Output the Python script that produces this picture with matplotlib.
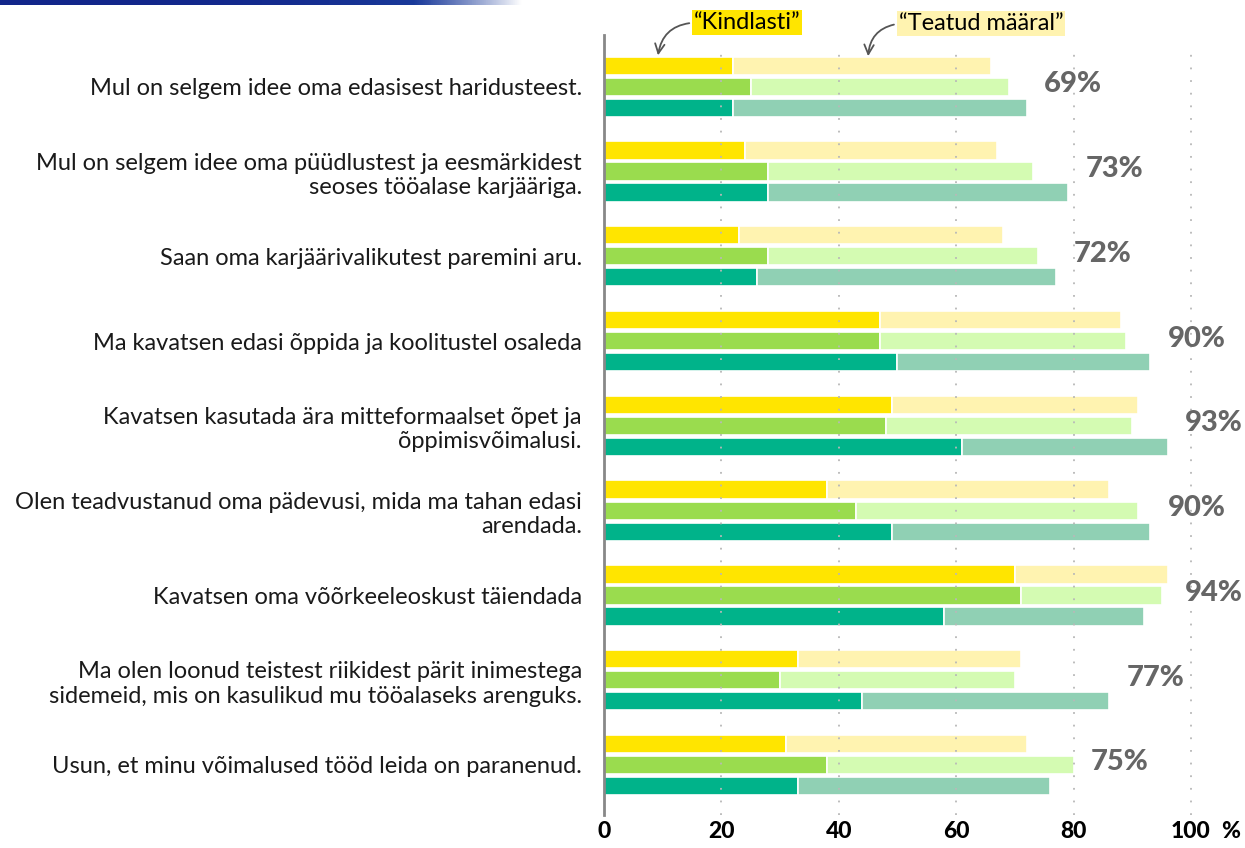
import matplotlib
matplotlib.use("Agg")
import matplotlib.pyplot as plt
import numpy as np
from matplotlib.colors import LinearSegmentedColormap

plt.rcParams['font.family'] = ['Lato', 'DejaVu Sans']

# andmed
kategooriad = [
    "Mul on selgem idee oma edasisest haridusteest.",
    "Mul on selgem idee oma püüdlustest ja eesmärkidest\nseoses tööalase karjääriga.",
    "Saan oma karjäärivalikutest paremini aru.",
    "Ma kavatsen edasi õppida ja koolitustel osaleda",
    "Kavatsen kasutada ära mitteformaalset õpet ja\nõppimisvõimalusi.",
    "Olen teadvustanud oma pädevusi, mida ma tahan edasi\narendada.",
    "Kavatsen oma võõrkeeleoskust täiendada",
    "Ma olen loonud teistest riikidest pärit inimestega\nsidemeid, mis on kasulikud mu tööalaseks arenguks.",
    "Usun, et minu võimalused tööd leida on paranenud.",
]
# "Kindlasti" ja "Teatud määral" osad, kolm rühma
kollane_kindlasti = [22, 24, 23, 47, 49, 38, 70, 33, 31]
kollane_teatud = [44, 43, 45, 41, 42, 48, 26, 38, 41]
roheline_kindlasti = [25, 28, 28, 47, 48, 43, 71, 30, 38]
roheline_teatud = [44, 45, 46, 42, 42, 48, 24, 40, 42]
tume_kindlasti = [22, 28, 26, 50, 61, 49, 58, 44, 33]
tume_teatud = [50, 51, 51, 43, 35, 44, 34, 42, 43]
kokku_protsent = [69, 73, 72, 90, 93, 90, 94, 77, 75]
x_ticks = [0, 20, 40, 60, 80, 100]

rühmad = [
    (kollane_kindlasti, kollane_teatud, '#FFE500', '#FFF3B0', -0.248),
    (roheline_kindlasti, roheline_teatud, '#9ADC4E', '#D4FBB2', 0.0),
    (tume_kindlasti, tume_teatud, '#00B38A', '#90D0B4', 0.248),
]

fig = plt.figure(figsize=(12.45, 8.48), dpi=100)
ax = fig.add_axes([604/1245, 33/848, 1 - 604/1245, 780/848])

y = np.arange(len(kategooriad))
h = 0.215
for k, t, c1, c2, off in rühmad:
    ax.barh(y + off, k, height=h, color=c1, edgecolor='white', linewidth=1.2, zorder=2)
    ax.barh(y + off, t, left=k, height=h, color=c2, edgecolor='white', linewidth=1.2, zorder=2)

# protsendid paremal
kokku = np.max([np.array(k) + np.array(t) for k, t, *_ in rühmad], axis=0)
for i, p in enumerate(kokku_protsent):
    ax.text(kokku[i] + 3, i - 0.03, f"{p}%", ha='left', va='center', fontsize=21,
            fontweight='black', color='#666666', zorder=4)

ax.set_xlim(0, 109.2)
ax.set_ylim(8.59, -0.61)

# ruudustik
for gx in x_ticks[1:]:
    ax.plot([gx, gx], [8.59, -0.45], color='#b8b8b8', lw=1.3, linestyle=(0, (1, 6)), zorder=3)

ax.set_xticks(x_ticks)
ax.set_xticklabels([str(v) for v in x_ticks], fontsize=16.5, fontweight='black')
ax.set_yticks(y)
ax.set_yticklabels(kategooriad, fontsize=17, color='#1a1a1a')
ax.tick_params(axis='x', length=0, pad=4)
ax.tick_params(axis='y', length=0, pad=16)
ax.annotate("%", xy=(106.8, 0), xycoords=('data', 'axes fraction'), xytext=(0, -4),
            textcoords='offset points', ha='center', va='top', fontsize=16.5, fontweight='black')

for s in ['top', 'right', 'bottom']:
    ax.spines[s].set_visible(False)
ax.spines['left'].set_color('#888888')
ax.spines['left'].set_linewidth(2)

# märkused
ax.annotate("“Kindlasti”", xy=(9.2, -0.37), xytext=(24.4, -0.755), textcoords='data',
            ha='center', va='center', fontsize=17, annotation_clip=False,
            bbox=dict(boxstyle='square,pad=0.08', fc='#FFE500', ec='none'),
            arrowprops=dict(arrowstyle='->', color='#555555', lw=1.3, relpos=(0, 0.5),
                            connectionstyle='arc3,rad=0.4', shrinkA=2, shrinkB=0))
ax.annotate("“Teatud määral”", xy=(45.0, -0.36), xytext=(64.2, -0.743), textcoords='data',
            ha='center', va='center', fontsize=17, annotation_clip=False,
            bbox=dict(boxstyle='square,pad=0.08', fc='#FFF3B0', ec='none'),
            arrowprops=dict(arrowstyle='->', color='#555555', lw=1.3, relpos=(0, 0.5),
                            connectionstyle='arc3,rad=0.4', shrinkA=2, shrinkB=0))

# sinine riba üleval
bax = fig.add_axes([0, 1 - 5/848, 0.42, 5/848])
sinine = LinearSegmentedColormap.from_list('s', ['#12268a', '#1a3a9a', '#ffffff'])
bax.imshow(np.linspace(0, 1, 256)[None, :] ** 3, aspect='auto', cmap=sinine)
bax.set_axis_off()

plt.savefig("out.png", dpi=100)
